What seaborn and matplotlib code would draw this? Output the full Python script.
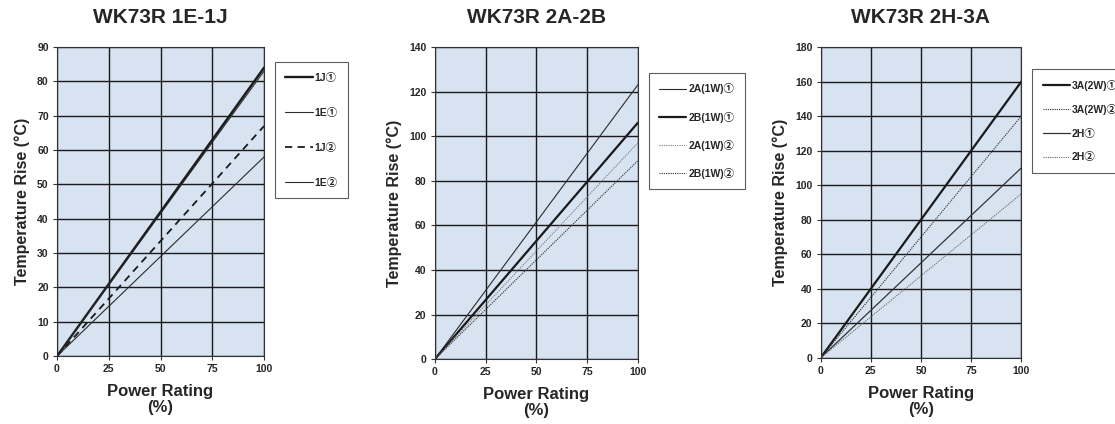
import matplotlib

matplotlib.use("Agg")
import matplotlib.pyplot as plt
import seaborn as sns

sns.set_theme(style="ticks")
plt.rcParams["font.family"] = ["Liberation Sans", "Noto Sans CJK JP", "DejaVu Sans"]
plt.rcParams["font.weight"] = "bold"

power = [0, 25, 50, 75, 100]

# WK73R 1E-1J
rise_1j_1 = [0, 21, 42, 63, 84]
rise_1e_1 = [0, 20.75, 41.5, 62.25, 83]
rise_1j_2 = [0, 16.75, 33.5, 50.25, 67]
rise_1e_2 = [0, 14.5, 29, 43.5, 58]

# WK73R 2A-2B
rise_2a_1 = [0, 30.75, 61.5, 92.25, 123]
rise_2b_1 = [0, 26.5, 53, 79.5, 106]
rise_2a_2 = [0, 24.25, 48.5, 72.75, 97]
rise_2b_2 = [0, 22.25, 44.5, 66.75, 89]

# WK73R 2H-3A
rise_3a_1 = [0, 40, 80, 120, 160]
rise_3a_2 = [0, 35, 70, 105, 140]
rise_2h_1 = [0, 27.5, 55, 82.5, 110]
rise_2h_2 = [0, 23.75, 47.5, 71.25, 95]

panels = [
    {
        "title": "WK73R 1E-1J",
        "rect": [0.0511, 0.160, 0.1857, 0.729],
        "ymax": 90, "ystep": 10,
        "legend_at": (1.053, 0.951), "spacing": 2.4,
        "series": [
            ("1J①", rise_1j_1, "#1a1a1a", 1.7, "-"),
            ("1E①", rise_1e_1, "#2a2a2a", 0.8, "-"),
            ("1J②", rise_1j_2, "#1a1a1a", 1.3, (0, (4, 3))),
            ("1E②", rise_1e_2, "#2a2a2a", 0.8, "-"),
        ],
    },
    {
        "title": "WK73R 2A-2B",
        "rect": [0.390, 0.153, 0.182, 0.736],
        "ymax": 140, "ystep": 20,
        "legend_at": (1.054, 0.917), "spacing": 1.65,
        "series": [
            ("2A(1W)①", rise_2a_1, "#2a2a2a", 0.8, "-"),
            ("2B(1W)①", rise_2b_1, "#1a1a1a", 1.6, "-"),
            ("2A(1W)②", rise_2a_2, "#7a7a7a", 0.8, (0, (1, 1))),
            ("2B(1W)②", rise_2b_2, "#2a2a2a", 0.8, (0, (1, 1))),
        ],
    },
    {
        "title": "WK73R 2H-3A",
        "rect": [0.736, 0.156, 0.180, 0.733],
        "ymax": 180, "ystep": 20,
        "legend_at": (1.055, 0.929), "spacing": 1.3,
        "series": [
            ("3A(2W)①", rise_3a_1, "#1a1a1a", 1.6, "-"),
            ("3A(2W)②", rise_3a_2, "#2a2a2a", 0.8, (0, (1, 1))),
            ("2H①", rise_2h_1, "#333333", 0.9, "-"),
            ("2H②", rise_2h_2, "#6a6a6a", 0.8, (0, (1, 1))),
        ],
    },
]

fig = plt.figure(figsize=(11.15, 4.24), dpi=100)

for panel in panels:
    ax = fig.add_axes(panel["rect"])
    ax.set_facecolor("#d7e3f1")
    for label, values, color, width, style in panel["series"]:
        sns.lineplot(x=power, y=values, ax=ax, color=color, linewidth=width,
                     linestyle=style, label=label)
    ax.set_xlim(0, 100)
    ax.set_ylim(0, panel["ymax"])
    ax.set_xticks(power)
    ax.set_yticks(range(0, panel["ymax"] + 1, panel["ystep"]))
    ax.grid(True, color="#1a1a1a", linewidth=1.0)
    ax.set_axisbelow(True)
    for spine in ax.spines.values():
        spine.set_color("#333333")
        spine.set_linewidth(0.8)
    ax.tick_params(axis="both", labelsize=7.5, length=3, width=0.8, pad=3,
                   color="#333333")
    for tick in ax.get_xticklabels() + ax.get_yticklabels():
        tick.set_fontweight("bold")
    ax.set_title(panel["title"], fontsize=15, fontweight="bold", pad=17)
    ax.set_xlabel("Power Rating\n(%)", fontsize=12, fontweight="bold",
                  labelpad=7, linespacing=1.05)
    ax.set_ylabel("Temperature Rise (°C)", fontsize=11.5, fontweight="bold",
                  labelpad=5)
    legend = ax.legend(loc="upper left", bbox_to_anchor=panel["legend_at"],
                       borderaxespad=0, frameon=True, fancybox=False,
                       fontsize=7.5, handlelength=2.6, handletextpad=0.2,
                       labelspacing=panel["spacing"], borderpad=1.0)
    legend.get_frame().set_edgecolor("#333333")
    legend.get_frame().set_linewidth(0.8)
    for text in legend.get_texts():
        text.set_fontweight("bold")

fig.savefig("out.png", dpi=100)
plt.close(fig)
